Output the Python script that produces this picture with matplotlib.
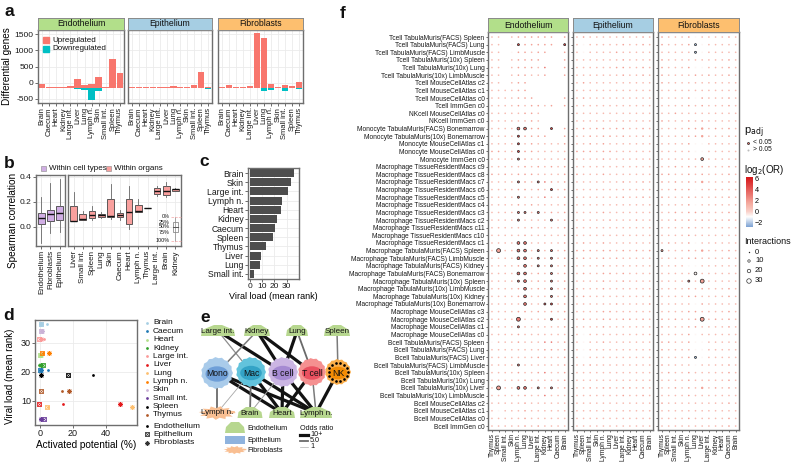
import numpy as np
import matplotlib
matplotlib.use("Agg")
import matplotlib.pyplot as plt
from matplotlib.patches import Rectangle, Polygon, Ellipse
from matplotlib.colors import LinearSegmentedColormap, TwoSlopeNorm

plt.rcParams['font.family'] = ['Liberation Sans', 'DejaVu Sans']
plt.rcParams['text.color'] = '#111111'

# ======================= DATA =======================
# panel a
organs_a = ["Brain", "Caecum", "Heart", "Kidney", "Large int.", "Liver", "Lung",
            "Lymph n.", "Skin", "Small int.", "Spleen", "Thymus"]
cell_types = ["Endothelium", "Epithelium", "Fibroblasts"]
a_base = -150
up_endo = [110, 5, 15, 5, 55, 275, 90, 110, 330, 15, 880, 450]
down_endo = [5, 5, 5, 5, 5, 50, 70, 380, 90, 5, 5, 5]
up_epi = [5, 5, 5, 30, 5, 5, 55, 30, 5, 90, 480, 30]
down_epi = [5, 5, 5, 5, 5, 5, 5, 5, 5, 5, 5, 50]
up_fib = [15, 90, 5, 30, 55, 1670, 1515, 120, 5, 90, 55, 160]
down_fib = [5, 5, 5, 5, 5, 5, 90, 70, 5, 90, 5, 50]

# panel b  (whislo, q1, median, q3, whishi)
b_cell_labels = ["Endothelium", "Fibroblasts", "Epithelium"]
b_cell_stats = [[-0.13, 0.02, 0.07, 0.11, 0.24],
                [-0.05, 0.05, 0.10, 0.135, 0.35],
                [-0.04, 0.055, 0.115, 0.17, 0.38]]
b_organ_labels = ["Liver", "Small int.", "Spleen", "Lung", "Skin", "Caecum", "Heart",
                  "Lymph n.", "Thymus", "Large int.", "Brain", "Kidney"]
b_organ_stats = [[0.045, 0.045, 0.05, 0.17, 0.28],
                 [0.055, 0.055, 0.06, 0.10, 0.13],
                 [0.055, 0.07, 0.095, 0.13, 0.17],
                 [0.07, 0.08, 0.095, 0.105, 0.12],
                 [0.06, 0.08, 0.09, 0.225, 0.34],
                 [0.055, 0.08, 0.095, 0.11, 0.135],
                 [-0.02, 0.02, 0.12, 0.225, 0.33],
                 [0.12, 0.12, 0.125, 0.175, 0.225],
                 [0.15, 0.15, 0.15, 0.15, 0.15],
                 [0.245, 0.265, 0.29, 0.315, 0.33],
                 [0.24, 0.255, 0.29, 0.325, 0.36],
                 [0.29, 0.29, 0.30, 0.305, 0.31]]

# panel c
c_organs = ["Brain", "Skin", "Large int.", "Lymph n.", "Heart", "Kidney", "Caecum",
            "Spleen", "Thymus", "Liver", "Lung", "Small int."]
c_viral = [36.4, 34.0, 31.2, 26.5, 25.8, 22.5, 20.6, 19.0, 13.4, 8.9, 8.0, 3.7]

# panel d
d_organs = ["Brain", "Caecum", "Heart", "Kidney", "Large int.", "Liver", "Lung",
            "Lymph n.", "Skin", "Small int.", "Spleen", "Thymus"]
d_colors = ["#a6cee3", "#1f78b4", "#b2df8a", "#33a02c", "#fb9a99", "#e31a1c",
            "#fdbf6f", "#ff7f00", "#cab2d6", "#6a3d9a", "#000000", "#b15928"]
d_viral = [36.4, 20.6, 25.8, 22.5, 31.2, 8.9, 8.0, 26.5, 34.0, 3.7, 19.0, 13.4]
d_act_endo = [4.0, 4.6, 0.3, -0.4, 2.6, 13.7, 4.8, 1.8, 1.5, 0.3, 32.0, 13.1]
d_act_epi = [0.4, 0.2, -0.2, 2.0, -0.4, -0.4, 4.0, 1.0, 0.4, 2.2, 17.2, 0.9]
d_act_fib = [0.6, 0.5, 0.8, 0.4, 0.6, 48.5, 56.0, 5.6, 1.5, 0.6, 0.7, 17.6]

# panel e
e_cells = ["Mono", "Mac", "B cell", "T cell", "NK"]
e_top = ["Large int.", "Kidney", "Lung", "Spleen"]
e_bottom = ["Lymph n.(F)", "Brain", "Heart", "Lymph n.(E)"]
e_edges = [("Large int.", "Mac", 3), ("Large int.", "B cell", 10),
           ("Kidney", "Mono", 4), ("Kidney", "B cell", 10), ("Kidney", "T cell", 10),
           ("Lung", "B cell", 10), ("Lung", "T cell", 5), ("Spleen", "NK", 4),
           ("Mono", "Lymph n.(F)", 5), ("Mono", "Heart", 10), ("Mono", "Lymph n.(E)", 10),
           ("Mac", "Lymph n.(F)", 1.5), ("Mac", "Brain", 5), ("Mac", "Heart", 10),
           ("Mac", "Lymph n.(E)", 10), ("B cell", "Brain", 2), ("B cell", "Heart", 10),
           ("B cell", "Lymph n.(E)", 10), ("T cell", "Heart", 10),
           ("T cell", "Lymph n.(E)", 4), ("NK", "Lymph n.(E)", 10)]

# panel f
f_rows = ["Tcell TabulaMuris(FACS) Spleen", "Tcell TabulaMuris(FACS) Lung",
          "Tcell TabulaMuris(FACS) LimbMuscle", "Tcell TabulaMuris(10x) Spleen",
          "Tcell TabulaMuris(10x) Lung", "Tcell TabulaMuris(10x) LimbMuscle",
          "Tcell MouseCellAtlas c2", "Tcell MouseCellAtlas c1", "Tcell MouseCellAtlas c0",
          "Tcell ImmGen c0", "NKcell MouseCellAtlas c0", "NKcell ImmGen c0",
          "Monocyte TabulaMuris(FACS) Bonemarrow", "Monocyte TabulaMuris(10x) Bonemarrow",
          "Monocyte MouseCellAtlas c1", "Monocyte MouseCellAtlas c0", "Monocyte ImmGen c0",
          "Macrophage TissueResidentMacs c9", "Macrophage TissueResidentMacs c8",
          "Macrophage TissueResidentMacs c7", "Macrophage TissueResidentMacs c6",
          "Macrophage TissueResidentMacs c5", "Macrophage TissueResidentMacs c4",
          "Macrophage TissueResidentMacs c3", "Macrophage TissueResidentMacs c2",
          "Macrophage TissueResidentMacs c11", "Macrophage TissueResidentMacs c10",
          "Macrophage TissueResidentMacs c1", "Macrophage TabulaMuris(FACS) Spleen",
          "Macrophage TabulaMuris(FACS) LimbMuscle", "Macrophage TabulaMuris(FACS) Kidney",
          "Macrophage TabulaMuris(FACS) Bonemarrow", "Macrophage TabulaMuris(10x) Spleen",
          "Macrophage TabulaMuris(10x) LimbMuscle", "Macrophage TabulaMuris(10x) Kidney",
          "Macrophage TabulaMuris(10x) Bonemarrow", "Macrophage MouseCellAtlas c3",
          "Macrophage MouseCellAtlas c2", "Macrophage MouseCellAtlas c1",
          "Macrophage MouseCellAtlas c0", "Bcell TabulaMuris(FACS) Spleen",
          "Bcell TabulaMuris(FACS) Lung", "Bcell TabulaMuris(FACS) Liver",
          "Bcell TabulaMuris(FACS) LimbMuscle", "Bcell TabulaMuris(10x) Spleen",
          "Bcell TabulaMuris(10x) Lung", "Bcell TabulaMuris(10x) Liver",
          "Bcell TabulaMuris(10x) LimbMuscle", "Bcell MouseCellAtlas c2",
          "Bcell MouseCellAtlas c1", "Bcell MouseCellAtlas c0", "Bcell ImmGen c0"]
f_cols = ["Thymus", "Spleen", "Small int.", "Skin", "Lymph n.", "Lung", "Liver",
          "Large int.", "Kidney", "Heart", "Caecum", "Brain"]
# log2(OR) level codes per cell: 0 none, . ~0.8, 1 ~1.7, 2 ~3, 3 ~4.5, 4 ~6, b ~-0.8, B ~-2.2
f_or_endo = ["..0.11111101", "..0b31111103", "..0b11.11001", "..0.11110001", "..0.111.2001",
             "..0.11..1001", "..0.11000000", "....11000000", "....11100001", "....1.11.101",
             ".....11.0000", "......1.0000", "....22110301", "....31111001", "....3.1....1",
             "11..311.....", "....21.....1", ".....1.1.1.1", "1.1.111....1", "....21.221.1",
             "....11.1.3.1", "....2...2..1", "....1.1....1", "....22.2.1.1", "....2....2.1",
             "......1....1", ".....1.....1", "....22.....1", ".1..22.2.2.1", "....22.2.2.1",
             "....12.2.2.1", "....22.1.2.1", "....22.1.2.1", "....12.1.2.1", "....12...2.1",
             ".....2..33.1", "....11.1.1.1", "....2....3.1", "....2......1", "....1.......",
             "b...1...22.1", "........11.1", ".......1...1", "....2......1", "....1..12..1",
             ".....1.....1", ".1..22.2.2.1", ".....1..2...", ".....1......", ".b...1......",
             ".....1......", ".....1.1...."]
# significance / interactions codes: . non-sig small, p non-sig larger, s/m/L/X significant (6/13/24/32)
f_sig_endo = ["............", "....s......s", "............", "............", "............",
              "............", "............", "............", "............", "............",
              "............", "............", "....mm...s..", "....s.......", "....s.......",
              "....s.......", "....s.......", "............", "............", "....s..s....",
              ".........s..", "....s.......", "............", "....ss.s....", "....s....s..",
              "............", "............", "....mm......", ".L..mm.s.s..", "....mm.s.s..",
              ".....m.s.s..", "....mm...s..", "....sm...s..", ".....m...s..", ".....m...s..",
              ".....m..ss..", "............", "....L....s..", "....s.......", "............",
              "............", "............", "............", "....s.......", "............",
              "............", ".L..mm.s.s..", "............", "............", "............",
              "............", "............"]
f_or_epi = [".1.....1..1.", ".b.....1..1.", ".b....1.....", ".......1....", "......11..1.",
            ".......1..1.", ".1..........", "............", ".1..........", "............",
            "............", "............", ".1.11.11..1.", "..1.11.1..1.", "..1.1.......",
            "111.11......", "....1.......", "............", "1...1.......", ".......1..1.",
            "............", ".......1..1.", "............", "....1.......", ".....1...1..",
            "............", "............", ".1..1.......", "111.11.1.1.1", ".1..1.1.....",
            "....1.......", ".1..11.1....", "....1..1....", "....1.......", ".1..........",
            "......1....1", "....11......", ".1..11.11.1.", "....1.......", ".b..........",
            ".b..1.......", ".b..........", ".b..........", "..1.........", "............",
            "............", "..1.11.11.1.", ".......1..1.", "............", "............",
            "............", "............"]
f_sig_epi = ["............"] * 52
f_or_fib = ["1...1b....1.", "1...1Bb.....", ".....Bb.....", "1.........1.", "1...1bb...1.",
            "1....1.1..1.", "1...........", "............", "....1b1...1.", "....1.1...1.",
            "..1.........", "1...1.1.....", "....111.1.1.", "....111...1.", "....1bb.....",
            ".....bb.....", "......1.....", "..1.1.1...1.", "11..1.1...1.", "1.1.1.1...1.",
            "..1.1b......", "1...1.....1.", "....1b......", "..1.111...1.", "..1.1.1.1.1.",
            "....1.......", "....1.......", ".1..1b......", "1...1.1...1.", "....11....1.",
            "....bb......", ".....b......", "....2.1.....", "....1.1...1.", "....11....1.",
            ".....b1.....", "....11....1.", "1.1..11.1.1.", "1...11....1.", "....1b......",
            "11..1bb.....", "1....bb.....", "....1Bb.....", "1....b....1.", ".1..1.....1.",
            "....1.....1.", "..1.1.1.1.1.", "....1.......", "1.........1.", "............",
            "....1.....1.", "..........1."]
f_sig_fib = ["............", ".....s......", ".....s......", "............", "............",
             "............", "............", "............", "............", "............",
             "............", "............", "......p.....", "......p.....", "............",
             "............", "......m.....", "............", "............", "......p.....",
             "............", "............", "............", "............", "............",
             "............", "............", "............", "s.....p.....", "............",
             "............", ".....m......", "....s.L.....", "............", "............",
             "............", "............", "......L.....", "............", "............",
             "............", "............", ".....s......", "............", "............",
             "............", "......p.....", "............", "............", "............",
             "............", "............"]

# ======================= LAYOUT HELPERS =======================
W, H = 800, 470
fig = plt.figure(figsize=(W / 100, H / 100), dpi=100)
FRAME = '#6e6e6e'
GRID = '#ebebeb'
STRIP = ['#b2df8a', '#a6cee3', '#fdbf6f']


def add_ax(x0, y0, x1, y1, **kw):
    return fig.add_axes([x0 / W, 1 - y1 / H, (x1 - x0) / W, (y1 - y0) / H], **kw)


def style(ax, grid=True, lab=5.5):
    for s in ax.spines.values():
        s.set_color(FRAME)
        s.set_linewidth(1.0)
    ax.tick_params(length=2, width=0.5, color='#333333', labelsize=lab, pad=1,
                   labelcolor='#1a1a1a')
    if grid:
        ax.grid(True, color=GRID, lw=0.6)
        ax.set_axisbelow(True)


def strip(x0, y0, x1, y1, color, text, fs=6.2):
    sx = add_ax(x0, y0, x1, y1)
    sx.set_facecolor(color)
    sx.set_xticks([])
    sx.set_yticks([])
    for s in sx.spines.values():
        s.set_color('#8a8a8a')
        s.set_linewidth(0.7)
    sx.text(0.5, 0.5, text, ha='center', va='center', fontsize=fs, transform=sx.transAxes)


# overlay axes in pixel coordinates for labels / legends / diagram
ov = fig.add_axes([0, 0, 1, 1], facecolor='none', zorder=20)
ov.set_xlim(0, W)
ov.set_ylim(H, 0)
ov.axis('off')

for letter, (lx, ly) in {"a": (9, 11), "b": (9, 163), "c": (204, 162), "d": (9, 316),
                         "e": (205, 318), "f": (343, 13)}.items():
    ov.text(lx, ly, letter, fontsize=12.5, fontweight='bold', ha='center', va='center')

# ======================= PANEL a =======================
a_up = [up_endo, up_epi, up_fib]
a_down = [down_endo, down_epi, down_fib]
a_px = [(38, 124), (128, 212), (218, 303)]
xa = np.arange(1, len(organs_a) + 1)
for k, (x0, x1) in enumerate(a_px):
    ax = add_ax(x0, 30, x1, 103)
    style(ax)
    ax.bar(xa, a_up[k], bottom=a_base, width=0.92, color='#F8766D', lw=0)
    ax.bar(xa, [-d for d in a_down[k]], bottom=a_base, width=0.92, color='#00BFC4', lw=0)
    ax.set_xlim(0.4, 12.6)
    ax.set_ylim(-625, 1625)
    ax.set_xticks(xa)
    ax.set_xticklabels(organs_a, rotation=90, fontsize=5.5)
    ax.set_yticks([-500, 0, 500, 1000, 1500])
    if k == 0:
        ax.set_yticklabels(['-500', '0', '500', '1000', '1500'], fontsize=6)
        ax.set_ylabel("Differential genes", fontsize=7.2, labelpad=2)
    else:
        ax.set_yticklabels([])
        ax.tick_params(axis='y', length=0)
    strip(x0, 18, x1, 30, STRIP[k], cell_types[k])

ov.add_patch(Rectangle((43, 37), 6, 6, color='#F8766D'))
ov.text(52, 40, "Upregulated", fontsize=5.8, va='center')
ov.add_patch(Rectangle((43, 46), 6, 6, color='#00BFC4'))
ov.text(52, 49, "Downregulated", fontsize=5.8, va='center')

# ======================= PANEL b =======================
PURPLE = '#d0aee4'
SALMON = '#f9a09e'


def mkstats(arr):
    return [dict(whislo=s[0], q1=s[1], med=s[2], q3=s[3], whishi=s[4], fliers=[]) for s in arr]


bprops = dict(widths=0.72, patch_artist=True, showfliers=False, showcaps=False,
              medianprops=dict(color='#111111', lw=1.0),
              whiskerprops=dict(color='#666666', lw=0.6))
axL = add_ax(36, 175, 65, 246)
style(axL, lab=5.8)
axL.bxp(mkstats(b_cell_stats), positions=np.arange(1, 4),
        boxprops=dict(facecolor=PURPLE, edgecolor='#444444', lw=0.6), **bprops)
axL.set_xlim(0.4, 3.6)
axL.set_ylim(-0.152, 0.415)
axL.set_yticks([0.0, 0.2, 0.4])
axL.set_yticklabels(['0.0', '0.2', '0.4'], fontsize=6)
axL.set_xticks(np.arange(1, 4))
axL.set_xticklabels(b_cell_labels, rotation=90, fontsize=5.8)
axL.set_ylabel("Spearman correlation", fontsize=7.2)
axL.yaxis.set_label_coords(-0.62, 0.36)

axR = add_ax(68, 175, 181, 246)
style(axR, lab=5.8)
axR.bxp(mkstats(b_organ_stats), positions=np.arange(1, 13),
        boxprops=dict(facecolor=SALMON, edgecolor='#444444', lw=0.6), **bprops)
axR.set_xlim(0.4, 12.6)
axR.set_ylim(-0.152, 0.415)
axR.set_yticks([0.0, 0.2, 0.4])
axR.set_yticklabels([])
axR.tick_params(axis='y', length=0)
axR.set_xticks(np.arange(1, 13))
axR.set_xticklabels(b_organ_labels, rotation=90, fontsize=5.8)

ov.add_patch(Rectangle((41, 166), 5, 5, facecolor=PURPLE, edgecolor='#888888', lw=0.4))
ov.text(49, 168.5, "Within cell types", fontsize=5.8, va='center')
ov.add_patch(Rectangle((106, 166), 5, 5, facecolor=SALMON, edgecolor='#888888', lw=0.4))
ov.text(114, 168.5, "Within organs", fontsize=5.8, va='center')
# quantile key
for lab, yy in zip(["0%", "25%", "50%", "75%", "100%"], [217, 222, 227, 232, 241]):
    ov.text(170, yy, lab, fontsize=3.9, ha='right', va='center')
ov.plot([175, 175], [217, 241], color='#888888', lw=0.5)
ov.add_patch(Rectangle((172.5, 222), 5, 10, facecolor='white', edgecolor='#777777', lw=0.5))
ov.plot([172.5, 177.5], [227, 227], color='#555555', lw=0.7)
ov.plot([171, 181], [217, 217], color='#f4a6a6', lw=0.5, ls='--')
ov.plot([171, 181], [241, 241], color='#f4a6a6', lw=0.5, ls='--')

# ======================= PANEL c =======================
axc = add_ax(248, 168, 299, 279)
style(axc, lab=6)
yc = np.arange(len(c_organs))
axc.barh(yc, c_viral, height=0.88, color='#4d4d4d')
axc.set_ylim(len(c_organs) - 0.45, -0.55)
axc.set_xlim(-1.6, 40.2)
axc.set_xticks([0, 10, 20, 30])
axc.set_yticks(yc)
axc.set_yticklabels(c_organs, fontsize=6.2)
axc.set_xlabel("Viral load (mean rank)", fontsize=6.5, labelpad=1)

# ======================= PANEL d =======================
axd = add_ax(35, 320, 137, 425)
style(axd, lab=6.5)
star = (8, 2, 0)
for i, org in enumerate(d_organs):
    col = d_colors[i]
    axd.plot(d_act_epi[i], d_viral[i], marker='s', ms=3.4, mfc='none', mec=col, mew=0.6, ls='none')
    axd.plot(d_act_epi[i], d_viral[i], marker='x', ms=3.0, mec=col, mew=0.5, ls='none')
    axd.plot(d_act_fib[i], d_viral[i], marker=star, ms=3.6, mec=col, mew=0.6, ls='none')
    axd.plot(d_act_endo[i], d_viral[i], marker='o', ms=2.0, mfc=col, mec=col, mew=0, ls='none')
axd.set_xlim(-3, 58.8)
axd.set_ylim(1.7, 37.9)
axd.set_xticks([0, 20, 40])
axd.set_yticks([10, 20, 30])
axd.set_xlabel("Activated potential (%)", fontsize=7.2, labelpad=1)
axd.set_ylabel("Viral load (mean rank)", fontsize=7.0)
axd.yaxis.set_label_coords(-0.2, 0.46)

for i, org in enumerate(d_organs):
    yy = 323 + 8.36 * i
    ov.plot(147, yy, marker='o', ms=2.0, color=d_colors[i], mew=0)
    ov.text(153, yy, org, fontsize=6, va='center')
for j, (lab, yy) in enumerate(zip(cell_types, [426, 434.3, 442.7])):
    if j == 0:
        ov.plot(147, yy, marker='o', ms=2.0, color='k', mew=0)
    elif j == 1:
        ov.plot(147, yy, marker='s', ms=3.2, mfc='none', mec='#333333', mew=0.6)
        ov.plot(147, yy, marker='x', ms=2.8, mec='#333333', mew=0.5)
    else:
        ov.plot(147, yy, marker=star, ms=3.4, mec='#333333', mew=0.6)
    ov.text(153, yy, lab, fontsize=6, va='center')

# ======================= PANEL e =======================
e_pos = {"Large int.": (218, 331), "Kidney": (257, 331), "Lung": (297, 331), "Spleen": (337, 331),
         "Mono": (217, 373), "Mac": (251, 372), "B cell": (283, 372), "T cell": (312, 372),
         "NK": (338, 372),
         "Lymph n.(F)": (217, 413), "Brain": (250, 413), "Heart": (282, 413), "Lymph n.(E)": (316, 413)}
e_width = {"Large int.": 34, "Kidney": 26, "Lung": 22, "Spleen": 26, "Brain": 25, "Heart": 26,
           "Lymph n.(E)": 32}
cell_style = {"Mono": ('#a9cbea', '#6f9fd8', 16),
              "Mac": ('#62c3dc', '#33a3c6', 15),
              "B cell": ('#cbb5e3', '#a58ad2', 15),
              "T cell": ('#f59090', '#ea5160', 14),
              "NK": ('#fbae4a', '#f48c05', 13)}


def edge_style(orv):
    frac = (min(orv, 10) - 1) / 9.0
    g = 0.62 * (1 - frac) + 0.07
    return (g, g, g), 0.5 + 1.8 * frac


for s, t, orv in e_edges:
    (x0, y0), (x1, y1) = e_pos[s], e_pos[t]
    c, lw = edge_style(orv)
    ov.plot([x0, x1], [y0, y1], color=c, lw=lw, zorder=1, solid_capstyle='butt')

GREEN = '#b7d78f'
ORANGE_F = '#f9bf92'


def house(x, y, w, color=GREEN):
    pts = [(x - w / 2, y + 5), (x + w / 2, y + 5), (x + w / 2 - 1, y - 1), (x + 4, y - 6),
           (x - 4, y - 6), (x - w / 2 + 1, y - 1)]
    ov.add_patch(Polygon(pts, closed=True, facecolor=color, edgecolor='none', zorder=3))


def splat(x, y, w, h, color=ORANGE_F):
    ang = np.linspace(0, 2 * np.pi, 23, endpoint=False)
    rad = np.where(np.arange(23) % 2 == 0, 1.15, 0.8)
    pts = np.c_[x + w / 2 * rad * np.cos(ang), y + h / 2 * rad * np.sin(ang)]
    ov.add_patch(Polygon(pts, closed=True, facecolor=color, edgecolor='none', zorder=3))


for name in e_top + ["Brain", "Heart", "Lymph n.(E)"]:
    x, y = e_pos[name]
    house(x, y, e_width[name])
    ov.text(x, y + 0.5, name.replace("(E)", ""), fontsize=5.8, ha='center', va='center', zorder=4)
xf, yf = e_pos["Lymph n.(F)"]
splat(xf, yf, 32, 12)
ov.text(xf, yf, "Lymph n.", fontsize=5.8, ha='center', va='center', zorder=4)

for name in e_cells:
    x, y = e_pos[name]
    outer, inner, r = cell_style[name]
    ang = np.linspace(0, 2 * np.pi, 30, endpoint=False)
    rr = r * np.where(np.arange(30) % 2 == 0, 1.0, 0.93)
    ov.add_patch(Polygon(np.c_[x + rr * np.cos(ang), y + rr * np.sin(ang)], closed=True,
                         facecolor=outer, edgecolor='none', zorder=3))
    ov.add_patch(Ellipse((x, y + 1), 2 * r * 0.72, 2 * r * 0.48, facecolor=inner,
                         edgecolor='none', zorder=4))
    ov.text(x, y + 1, name, fontsize=6.2, ha='center', va='center', zorder=5)
nx, ny = e_pos["NK"]
for a in np.linspace(0, 2 * np.pi, 14, endpoint=False):
    ov.plot(nx + 9.5 * np.cos(a), ny + 9.5 * np.sin(a), marker='o', ms=0.9, color='k', zorder=5)

# e legend
house(235, 428, 20)
ov.text(247, 428, "Endothelium", fontsize=5.2, va='center')
ov.add_patch(Rectangle((225, 436), 20, 8, facecolor='#8fb3de', edgecolor='none'))
ov.text(247, 440, "Epithelium", fontsize=5.2, va='center')
splat(235, 450, 20, 7)
ov.text(247, 450.5, "Fibroblasts", fontsize=5.2, va='center')
ov.text(300, 428.5, "Odds ratio", fontsize=5.2, va='center')
for lab, yy, orv in [("10+", 434.5, 10), ("5.0", 440.5, 5), ("1", 446.5, 1)]:
    c, lw = edge_style(orv)
    ov.plot([300, 308], [yy, yy], color=c, lw=lw)
    ov.text(310, yy, lab, fontsize=5.2, va='center')

# ======================= PANEL f =======================
lvl = {'.': 0.8, '1': 1.7, '2': 3.0, '3': 4.5, '4': 6.0, 'b': -0.8, 'B': -2.2}
inter_code = {'.': 2.5, 'p': 10, 's': 6, 'm': 13, 'L': 24, 'X': 32}
cmap = LinearSegmentedColormap.from_list(
    'or', [(0.0, '#6f98cf'), (0.333, '#ffffff'), (0.6, '#f6b1a5'), (1.0, '#d7191c')])
norm = TwoSlopeNorm(vmin=-3, vcenter=0, vmax=6)


def sz(n):
    d = 1.0 + 0.075 * n
    return d * d


f_or = [f_or_endo, f_or_epi, f_or_fib]
f_sig = [f_sig_endo, f_sig_epi, f_sig_fib]
f_px = [(488, 568), (573, 653), (658, 739)]
nrow = len(f_rows)
for k, (x0, x1) in enumerate(f_px):
    ax = add_ax(x0, 32, x1, 430)
    style(ax, grid=False, lab=4.8)
    xs, ys, cs, ss, sig = [], [], [], [], []
    for i in range(nrow):
        orow = f_or[k][i].ljust(12, '0')[:12]
        srow = f_sig[k][i].ljust(12, '.')[:12]
        for j in range(12):
            if orow[j] == '0':
                continue
            xs.append(j + 1)
            ys.append(nrow - 1 - i)
            cs.append(lvl[orow[j]])
            ss.append(sz(inter_code.get(srow[j], 2.5)))
            sig.append(srow[j] in 'smLX')
    xs, ys, cs, ss, sig = map(np.array, (xs, ys, cs, ss, sig))
    ax.scatter(xs[~sig], ys[~sig], c=cmap(norm(cs[~sig])), s=ss[~sig], lw=0, zorder=2)
    ax.scatter(xs[sig], ys[sig], c=cmap(norm(cs[sig])), s=ss[sig], edgecolors='#222222',
               linewidths=0.5, zorder=3)
    ax.set_xlim(0.4, 12.5)
    ax.set_ylim(-0.52, nrow - 1 + 0.66)
    ax.set_xticks(np.arange(1, 13))
    ax.set_xticklabels(f_cols, rotation=90, fontsize=4.8)
    ax.set_yticks(np.arange(nrow))
    if k == 0:
        ax.set_yticklabels(f_rows[::-1], fontsize=4.8)
    else:
        ax.set_yticklabels([])
        ax.tick_params(axis='y', length=0)
    ax.tick_params(length=1.5)
    strip(x0, 18, x1, 32, STRIP[k], cell_types[k])

# f legends
ov.text(744, 133, r"p$_{\mathrm{adj}}$", fontsize=8, va='center')
ov.scatter([748], [143], s=sz(6), c=[cmap(norm(3))], edgecolors='#222222', linewidths=0.5)
ov.text(753, 143, "< 0.05", fontsize=4.8, va='center')
ov.scatter([748], [149.5], s=sz(6), c='#bbbbbb', lw=0)
ov.text(753, 149.5, "> 0.05", fontsize=4.8, va='center')
ov.text(744, 170, r"log$_2$(OR)", fontsize=7, va='center')
cax = add_ax(746, 177, 753, 227)
cb_lo, cb_hi = -2.8, 6.3
grad = np.linspace(cb_lo, cb_hi, 200).reshape(-1, 1)
cax.imshow(grad, aspect='auto', cmap=cmap, norm=norm, origin='lower',
           extent=[0, 1, cb_lo, cb_hi])
cax.set_xticks([])
cax.yaxis.tick_right()
cax.set_yticks([-2, 0, 2, 4, 6])
cax.set_yticklabels(['\u22122', '0', '2', '4', '6'])
cax.tick_params(axis='y', labelsize=5.2, length=0, pad=1.5)
for s in cax.spines.values():
    s.set_visible(False)
ov.text(744, 242, "Interactions", fontsize=6.5, va='center')
for lab, n, yy in [("0", 0, 252), ("10", 10, 261), ("20", 20, 271), ("30", 30, 281)]:
    if n == 0:
        ov.scatter([749], [yy], s=sz(0), c='#222222', lw=0)
    else:
        ov.scatter([749], [yy], s=sz(n), facecolors='none', edgecolors='#333333', linewidths=0.5)
    ov.text(755, yy, lab, fontsize=5.5, va='center')

fig.savefig("out.png", dpi=100)
